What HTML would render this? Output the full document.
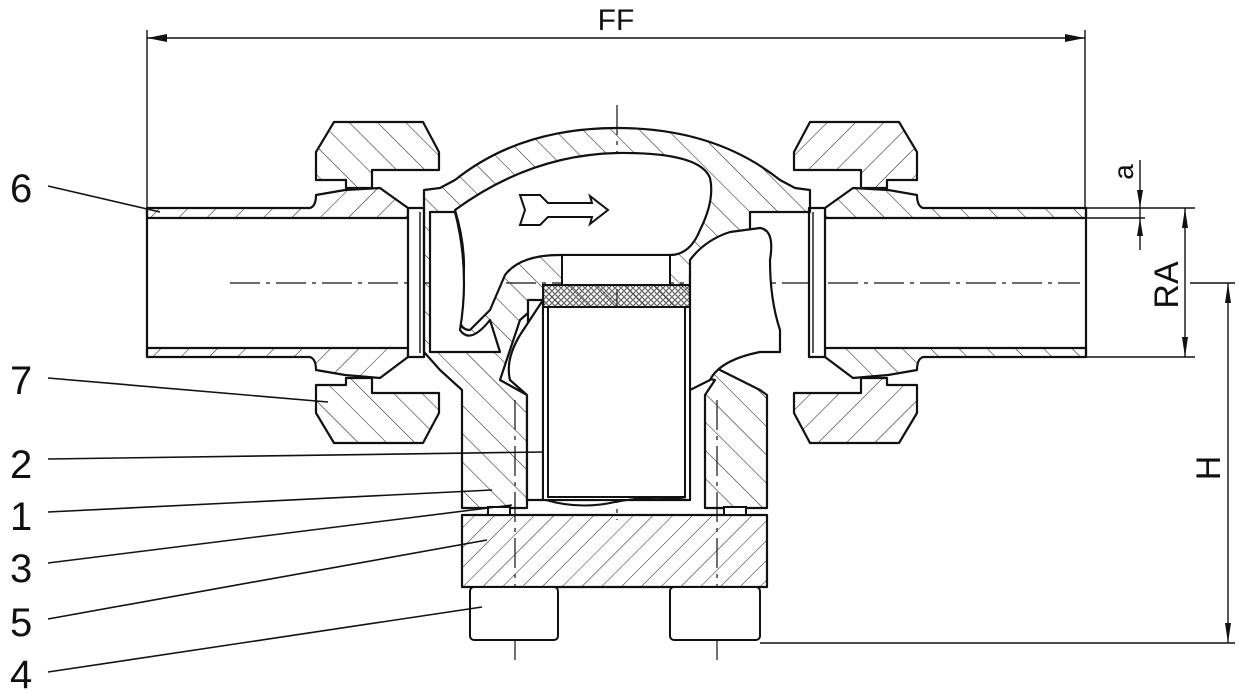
<!DOCTYPE html>
<html><head><meta charset="utf-8"><style>
html,body{margin:0;padding:0;background:#fff;}
svg{display:block;}
text{font-family:"Liberation Sans",sans-serif;fill:#111;font-weight:normal;}
</style></head><body>
<svg width="1239" height="694" viewBox="0 0 1239 694" xmlns="http://www.w3.org/2000/svg">
<defs>
<pattern id="h" patternUnits="userSpaceOnUse" width="20" height="20" patternTransform="rotate(-45)">
<line x1="0" y1="0" x2="0" y2="20" stroke="#222" stroke-width="1.1"/>
</pattern>
<pattern id="h2" patternUnits="userSpaceOnUse" width="20" height="20" patternTransform="rotate(45)">
<line x1="0" y1="0" x2="0" y2="20" stroke="#222" stroke-width="1.1"/>
</pattern>
<pattern id="h3" patternUnits="userSpaceOnUse" width="14" height="14" patternTransform="rotate(45)">
<line x1="0" y1="0" x2="0" y2="14" stroke="#222" stroke-width="1"/>
</pattern>
<pattern id="holes" patternUnits="userSpaceOnUse" width="6" height="6">
<circle cx="3" cy="3" r="2.3" fill="none" stroke="#222" stroke-width="0.9"/>
</pattern>
<g id="side" stroke="#111" stroke-width="2.2" fill="none" stroke-linejoin="round">
  <path d="M147,208 L310,208 Q316,206 316,195 L345,190 L380,188 L408,208 L408,218 L147,218 Z" fill="url(#h2)"/>
  <path d="M147,357 L310,357 Q316,359 316,370 L345,375 L380,378 L408,357 L408,348 L147,348 Z" fill="url(#h2)"/>
  <line x1="147" y1="208" x2="147" y2="357"/>
  <rect x="408" y="208" width="16" height="149" fill="#fff"/>
  <line x1="420" y1="212" x2="420" y2="353" stroke-width="1.4"/>
  <path d="M334,122 L423,122 L439,152 L439,170 L372,170 L372,188 L346,188 L346,180 L316,180 L316,152 Z" fill="url(#h)"/>
  <path d="M334,443 L423,443 L439,413 L439,393 L372,393 L372,378 L346,378 L346,385 L316,385 L316,413 Z" fill="url(#h)"/>
</g>
</defs>

<g stroke="#111" stroke-width="1.4" fill="none">
<line x1="147" y1="30" x2="147" y2="208"/>
<line x1="1085" y1="30" x2="1085" y2="208"/>
<line x1="147" y1="38" x2="1085" y2="38"/>
</g>
<polygon points="147,38 167,34 167,42" fill="#111"/>
<polygon points="1085,38 1065,34 1065,42" fill="#111"/>
<text x="616" y="30" font-size="30" text-anchor="middle">FF</text>

<g stroke="#111" stroke-width="1.2" stroke-dasharray="30,6,4,6" fill="none">
<line x1="230" y1="283" x2="1080" y2="283"/>
<line x1="617" y1="105" x2="617" y2="520"/>
<line x1="515" y1="400" x2="515" y2="660"/>
<line x1="717" y1="400" x2="717" y2="660"/>
</g>

<use href="#side"/>
<use href="#side" transform="translate(1233,0) scale(-1,1)"/>

<g stroke="#111" stroke-width="2.2" stroke-linejoin="round">
<path d="M424,190 L440,188 L455,180 Q520,128 617,128 Q715,128 780,180 L795,188 L810,190 L810,212 L750,212 L750,240 Q700,255 690,275 L690,300 L700,330 Q710,360 720,370 L760,390 L767,395 L767,508 L705,508 L705,395 L715,380 L690,375 L690,500 L543,500 L543,300 L520,320 L500,380 L527,395 L527,508 L462,508 L462,390 L440,370 L424,352 Z" fill="url(#h)"/>
<path d="M455,210 Q530,155 617,153 Q700,152 710,178 Q715,200 700,230 Q690,255 670,255 L560,255 Q520,255 505,275 L490,310 L470,330 Q455,330 460,300 Q470,260 455,210 Z" fill="#fff"/>
<path d="M690,260 Q705,240 730,232 L760,228 Q775,230 770,260 Q770,300 780,330 L780,352 L760,352 Q720,360 710,380 L690,390 L690,260 Z" fill="#fff"/>
<path d="M430,212 L455,212 Q470,270 460,330 Q470,345 490,320 L500,352 L430,352 Z" fill="#fff"/>
<path d="M528,300 L543,300 L543,350 L528,350 Z" fill="#fff"/>
<path d="M510,380 Q505,360 520,335 L543,300 L543,500 L527,500 L527,395 Z" fill="#fff"/>
<rect x="462" y="515" width="305" height="72" fill="url(#h3)"/>
</g>
<g stroke="#111" stroke-width="2" fill="#fff">
<rect x="562" y="255" width="108" height="30"/>
<rect x="543" y="285" width="147" height="22" fill="url(#holes)"/>
<rect x="543" y="307" width="147" height="193"/>
<rect x="548" y="307" width="137" height="190"/>
<path d="M546,500 Q580,510 615,502 Q650,495 688,500" fill="none"/>
<rect x="470" y="587" width="88" height="53" rx="4"/>
<rect x="670" y="587" width="90" height="53" rx="4"/>
<rect x="488" y="507" width="22" height="8"/>
<rect x="724" y="507" width="22" height="8"/>
</g>

<path d="M520,195 L540,195 L548,203 L592,203 L590,196 L608,210 L590,224 L592,217 L548,217 L540,225 L520,225 L525,210 Z" fill="#fff" stroke="#111" stroke-width="2"/>

<g stroke="#111" stroke-width="1.4" fill="none">
<line x1="1085" y1="208" x2="1195" y2="208"/>
<line x1="1085" y1="357" x2="1195" y2="357"/>
<line x1="1085" y1="218" x2="1145" y2="218"/>
<line x1="1140" y1="160" x2="1140" y2="250"/>
<line x1="1185" y1="208" x2="1185" y2="357"/>
<line x1="1190" y1="283" x2="1235" y2="283"/>
<line x1="1228" y1="283" x2="1228" y2="643"/>
<line x1="760" y1="643" x2="1235" y2="643"/>
</g>
<g fill="#111">
<polygon points="1140,208 1137,190 1143,190"/>
<polygon points="1140,218 1137,236 1143,236"/>
<polygon points="1185,208 1182,228 1188,228"/>
<polygon points="1185,357 1182,337 1188,337"/>
<polygon points="1228,283 1225,303 1231,303"/>
<polygon points="1228,643 1225,623 1231,623"/>
</g>
<text transform="translate(1133,172) rotate(-90)" font-size="28" text-anchor="middle">a</text>
<text transform="translate(1178,285) rotate(-90)" font-size="34" text-anchor="middle">RA</text>
<text transform="translate(1220,468) rotate(-90)" font-size="34" text-anchor="middle">H</text>

<g stroke="#111" stroke-width="1.6">
<line x1="48" y1="186" x2="160" y2="212"/>
<line x1="48" y1="378" x2="328" y2="402"/>
<line x1="48" y1="459" x2="543" y2="452"/>
<line x1="48" y1="512" x2="492" y2="490"/>
<line x1="48" y1="563" x2="512" y2="505"/>
<line x1="48" y1="619" x2="487" y2="540"/>
<line x1="48" y1="672" x2="482" y2="607"/>
</g>
<g font-size="40">
<text x="10" y="202">6</text>
<text x="10" y="394">7</text>
<text x="10" y="478">2</text>
<text x="10" y="530">1</text>
<text x="10" y="582">3</text>
<text x="10" y="636">5</text>
<text x="10" y="688">4</text>
</g>
</svg>
</body></html>
